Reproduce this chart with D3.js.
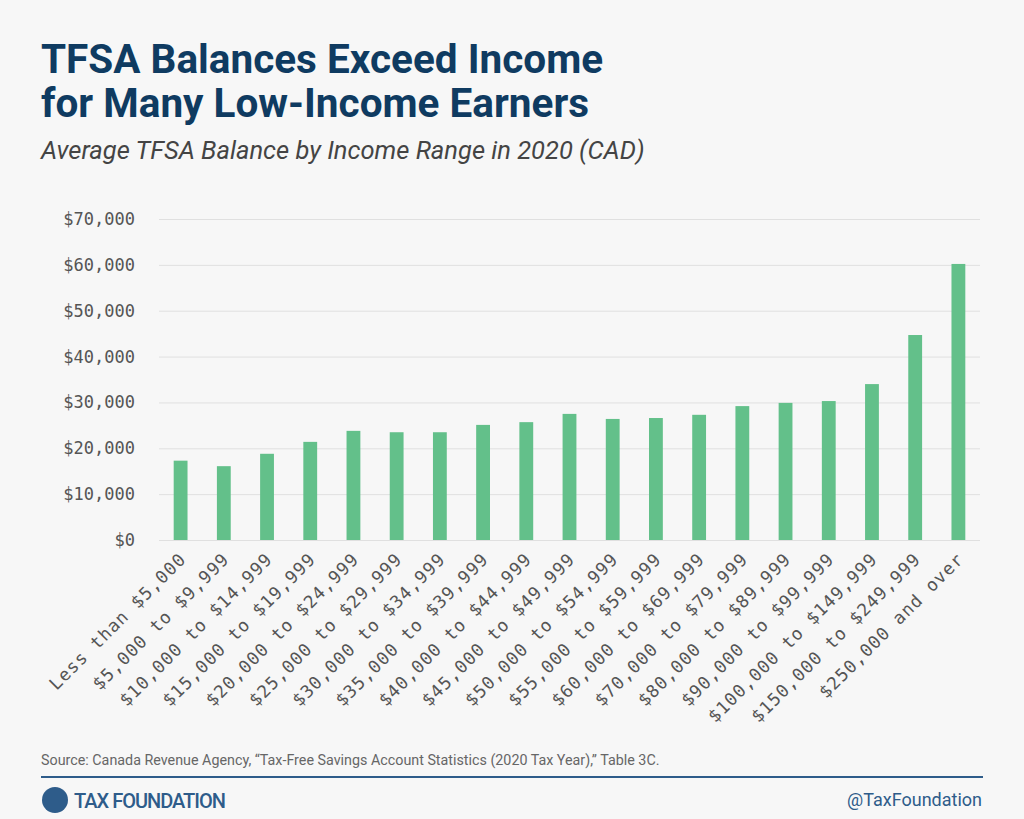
<!DOCTYPE html>
<html><head><meta charset="utf-8">
<script src="https://cdn.jsdelivr.net/npm/d3@7"></script>
<style>
body{margin:0;background:#f7f7f7;}
svg{display:block;}
</style></head><body>
<svg id="chart" width="1024" height="819"></svg>
<script>
var categories = ["Less than $5,000","$5,000 to $9,999","$10,000 to $14,999","$15,000 to $19,999","$20,000 to $24,999","$25,000 to $29,999","$30,000 to $34,999","$35,000 to $39,999","$40,000 to $44,999","$45,000 to $49,999","$50,000 to $54,999","$55,000 to $59,999","$60,000 to $69,999","$70,000 to $79,999","$80,000 to $89,999","$90,000 to $99,999","$100,000 to $149,999","$150,000 to $249,999","$250,000 and over"];
var balances = [17300,16100,18800,21400,23800,23500,23500,25100,25700,27500,26400,26600,27300,29200,29900,30300,34000,44700,60200];
var yTicks = [0,10000,20000,30000,40000,50000,60000,70000];

var svg = d3.select("#chart");
svg.append("rect").attr("width",1024).attr("height",819).attr("fill","#f7f7f7");

svg.append("text").attr("x",41).attr("y",73).attr("fill","#0f3b61")
  .attr("font-family","Roboto").attr("font-weight",700).attr("font-size",40.5)
  .text("TFSA Balances Exceed Income");
svg.append("text").attr("x",41).attr("y",117).attr("fill","#0f3b61")
  .attr("font-family","Roboto").attr("font-weight",700).attr("font-size",40.5)
  .text("for Many Low-Income Earners");
svg.append("text").attr("x",41).attr("y",159).attr("fill","#444")
  .attr("font-family","Roboto").attr("font-style","italic").attr("font-size",25.5)
  .text("Average TFSA Balance by Income Range in 2020 (CAD)");

var margin = {left:159, right:44, top:219, bottom:279};
var width = 1024 - margin.left - margin.right,
    height = 819 - margin.top - margin.bottom;

var x = d3.scaleBand().domain(categories).range([0,width]).paddingInner(0.68).paddingOuter(0.34);
var y = d3.scaleLinear().domain([0,70000]).range([height,0]);

var g = svg.append("g").attr("transform","translate("+margin.left+","+margin.top+")");

var yAxis = d3.axisLeft(y).tickValues(yTicks).tickSize(-width)
  .tickFormat(function(d){ return "$" + d3.format(",")(d); });
var ya = g.append("g").call(yAxis);
ya.select(".domain").remove();
ya.selectAll("line").attr("stroke","#e0e0e0");
ya.selectAll("text").attr("x",-24).attr("fill","#555")
  .attr("font-family","DejaVu Sans Mono").attr("font-size",17);

g.selectAll("rect.bar").data(balances).enter().append("rect")
  .attr("class","bar")
  .attr("x",function(d,i){ return x(categories[i]); })
  .attr("y",function(d){ return y(d); })
  .attr("width",x.bandwidth())
  .attr("height",function(d){ return height - y(d); })
  .attr("fill","#63c08a");

var xAxis = d3.axisBottom(x).tickSize(0);
var xa = g.append("g").attr("transform","translate(0,"+height+")").call(xAxis);
xa.select(".domain").remove();
xa.selectAll("text")
  .attr("fill","#555").attr("font-family","DejaVu Sans Mono").attr("font-size",17.5)
  .attr("letter-spacing",1).attr("text-anchor","end").attr("dy","0.35em")
  .attr("transform","translate(0,14) rotate(-45)");

svg.append("text").attr("x",41).attr("y",765).attr("fill","#666")
  .attr("font-family","Roboto").attr("font-size",14.3)
  .text("Source: Canada Revenue Agency, \u201cTax-Free Savings Account Statistics (2020 Tax Year),\u201d Table 3C.");
svg.append("line").attr("x1",41).attr("x2",983).attr("y1",777).attr("y2",777)
  .attr("stroke","#2e5c8a").attr("stroke-width",2);

svg.append("circle").attr("cx",55).attr("cy",800).attr("r",13).attr("fill","#2e5c8a");
svg.append("text").attr("x",74).attr("y",808).attr("fill","#2e5c8a")
  .attr("font-family","Roboto").attr("font-weight",500).attr("font-size",20).attr("letter-spacing",-1)
  .text("TAX FOUNDATION");
svg.append("text").attr("x",982).attr("y",806).attr("text-anchor","end").attr("fill","#2e5c8a")
  .attr("font-family","Roboto").attr("font-size",18)
  .text("@TaxFoundation");
</script>
</body></html>
